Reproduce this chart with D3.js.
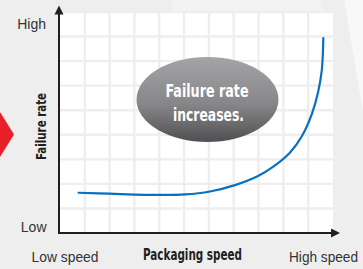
<!DOCTYPE html>
<html><head><meta charset="utf-8">
<script src="https://cdn.jsdelivr.net/npm/d3@7"></script>
<style>html,body{margin:0;padding:0;background:#eeeeee;}svg{display:block;}</style>
</head><body>
<svg id="c" width="363" height="269"></svg>
<script>
// ---- data ----
const speed = [0.75, 2.0, 4.03, 5.04, 6.04, 7.05, 7.98, 8.58, 9.27, 9.75, 10.15, 10.40, 10.55, 10.61];
const failureRate = [1.64, 1.60, 1.55, 1.57, 1.69, 1.95, 2.32, 2.69, 3.28, 3.95, 4.85, 5.74, 6.64, 7.94];
const xTicks = d3.range(0, 12);
const yTicks = d3.range(0, 10);
const yEndLabels = ["Low", "High"];
const xEndLabels = ["Low speed", "High speed"];
const xTitle = "Packaging speed";
const yTitle = "Failure rate";
const calloutLines = ["Failure rate", "increases."];

const svg = d3.select("#c");
const x = d3.scaleLinear().domain([0, 11]).range([60, 333]);
const y = d3.scaleLinear().domain([0, 9]).range([233, 12]);

const defs = svg.append("defs");
const g = defs.append("linearGradient").attr("id","eg").attr("x1",0).attr("y1",0).attr("x2",0).attr("y2",1);
g.append("stop").attr("offset","0%").attr("stop-color","#a4a4a6");
g.append("stop").attr("offset","55%").attr("stop-color","#878789");
g.append("stop").attr("offset","100%").attr("stop-color","#505052");

// background
svg.append("rect").attr("width",363).attr("height",269).attr("fill","#eeeeee");
svg.append("path").attr("d","M344,0 L363,0 L363,112 Z").attr("fill","#f8f8f8");
svg.append("rect").attr("x",172).attr("y",0).attr("width",150).attr("height",12).attr("fill","#f3f3f3");

// red triangle
svg.append("path").attr("d","M0,112 L14,134.5 L0,157 Z").attr("fill","#e8202a");

// grid
svg.append("rect").attr("x",x(0)).attr("y",y(9)).attr("width",x(11)-x(0)).attr("height",y(0)-y(9)).attr("fill","#ffffff");
svg.append("g").selectAll("line").data(xTicks.slice(1,-1)).join("line")
  .attr("x1",d=>x(d)).attr("x2",d=>x(d)).attr("y1",y(9)).attr("y2",y(0))
  .attr("stroke","#eeeeee").attr("stroke-width",2.4);
svg.append("g").selectAll("line").data(yTicks.slice(1)).join("line")
  .attr("y1",d=>y(d)).attr("y2",d=>y(d)).attr("x1",x(0)).attr("x2",x(11))
  .attr("stroke","#eeeeee").attr("stroke-width",2.4);

// axes
const ax = x(0)-1, ay = y(0);
svg.append("line").attr("x1",ax).attr("x2",ax).attr("y1",ay+1).attr("y2",12).attr("stroke","#231f20").attr("stroke-width",2);
svg.append("path").attr("d",`M${ax},5.5 L${ax-4.5},14.5 L${ax+4.5},14.5 Z`).attr("fill","#231f20");
svg.append("line").attr("x1",ax-1).attr("x2",333).attr("y1",ay).attr("y2",ay).attr("stroke","#231f20").attr("stroke-width",2);
svg.append("path").attr("d",`M340,${ay} L331,${ay-4.5} L331,${ay+4.5} Z`).attr("fill","#231f20");

// curve
const line = d3.line().x((d,i)=>x(speed[i])).y(d=>y(d)).curve(d3.curveCatmullRom.alpha(0.5));
svg.append("path").attr("d",line(failureRate)).attr("fill","none").attr("stroke","#0870c0").attr("stroke-width",2.2).attr("stroke-linecap","round");

// callout ellipse
svg.append("ellipse").attr("cx",207.5).attr("cy",99.5).attr("rx",71).attr("ry",42.5).attr("fill","url(#eg)");
const narrow = "'Liberation Sans Narrow','DejaVu Sans Condensed','Liberation Sans',sans-serif";
function fit(sel, w){ sel.attr("textLength",w).attr("lengthAdjust","spacingAndGlyphs"); return sel; }
fit(svg.append("text").attr("x",207).attr("y",96.5).attr("text-anchor","middle").attr("font-family",narrow).attr("font-weight","bold").attr("font-size",17).attr("fill","#ffffff").text(calloutLines[0]),83);
fit(svg.append("text").attr("x",208.5).attr("y",121).attr("text-anchor","middle").attr("font-family",narrow).attr("font-weight","bold").attr("font-size",17).attr("fill","#ffffff").text(calloutLines[1]),71);

// labels
const reg = "'Liberation Sans',Arial,sans-serif";
svg.append("text").attr("x",46).attr("y",28.5).attr("text-anchor","end").attr("font-family",reg).attr("font-size",14).attr("fill","#333333").text(yEndLabels[1]);
svg.append("text").attr("x",46.5).attr("y",232).attr("text-anchor","end").attr("font-family",reg).attr("font-size",14).attr("fill","#333333").text(yEndLabels[0]);
fit(svg.append("text").attr("x",31.5).attr("y",261.5).attr("font-family",reg).attr("font-size",14).attr("fill","#333333").text(xEndLabels[0]),67);
fit(svg.append("text").attr("x",289).attr("y",261.5).attr("font-family",reg).attr("font-size",14).attr("fill","#333333").text(xEndLabels[1]),69);
fit(svg.append("text").attr("x",192.5).attr("y",260).attr("text-anchor","middle").attr("font-family",narrow).attr("font-weight","bold").attr("font-size",15).attr("fill","#231f20").text(xTitle),99);
fit(svg.append("text").attr("transform","translate(45.5,126.5) rotate(-90)").attr("text-anchor","middle").attr("font-family",narrow).attr("font-weight","bold").attr("font-size",14).attr("fill","#231f20").text(yTitle),67);
</script>
</body></html>
